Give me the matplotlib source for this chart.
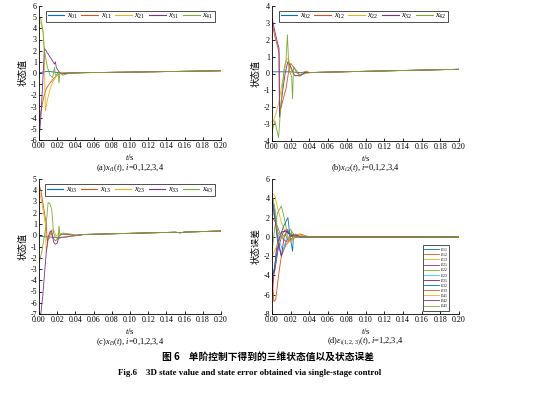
import matplotlib
matplotlib.use("Agg")
import matplotlib.pyplot as plt

plt.rcParams['font.family'] = ['Liberation Serif', 'Noto Sans CJK SC', 'DejaVu Sans']
plt.rcParams['mathtext.fontset'] = 'custom'
plt.rcParams['mathtext.rm'] = 'Liberation Serif'
plt.rcParams['mathtext.it'] = 'Liberation Serif:italic'
plt.rcParams['mathtext.bf'] = 'Liberation Serif:bold'

COLORS = ['#0072BD', '#D95319', '#EDB120', '#7E2F8E', '#77AC30', '#4DBEEE', '#A2142F']

tail_t = [0.05, 0.10, 0.15, 0.20]

# ---------- panel (a) ----------
a_tail = [0.03, 0.08, 0.14, 0.20]
a_x01_t = [0, 0.005, 0.01, 0.015, 0.02, 0.03, 0.04]
a_x01_y = [0, 0.10, 0.15, 0.10, 0.05, 0.0, 0.01]
a_x11_t = [0, 0.002, 0.005, 0.008, 0.012, 0.016, 0.02, 0.025, 0.03, 0.04]
a_x11_y = [-4.5, -3.5, -2.2, -1.4, -0.9, -0.5, -0.2, 0.0, -0.05, 0.01]
a_x21_t = [0, 0.002, 0.005, 0.006, 0.007, 0.009, 0.012, 0.015, 0.02, 0.025, 0.03, 0.04]
a_x21_y = [4.6, 4.5, 3.6, 1.0, -3.4, -2.5, -1.5, -0.8, -0.2, 0.05, 0.0, 0.01]
a_x31_t = [0, 0.002, 0.004, 0.006, 0.01, 0.014, 0.017, 0.018, 0.019, 0.022, 0.025, 0.03, 0.04]
a_x31_y = [-6.0, -4.0, -1.0, 2.2, 1.7, 1.2, 0.8, 1.0, 0.5, 0.1, -0.1, 0.0, 0.01]
a_x41_t = [0, 0.002, 0.004, 0.006, 0.009, 0.012, 0.015, 0.017, 0.018, 0.021, 0.022, 0.023, 0.026, 0.03, 0.035, 0.04]
a_x41_y = [5.0, 4.8, 4.0, 2.0, 0.6, -0.2, -0.4, 0.5, -0.2, 0.0, -0.9, 0.1, -0.2, -0.1, 0.0, 0.01]
a_labels = [r'$x_{01}$', r'$x_{11}$', r'$x_{21}$', r'$x_{31}$', r'$x_{41}$']

# ---------- panel (b) ----------
b_tail = [0.07, 0.13, 0.19, 0.25]
b_x02_t = [0, 0.01, 0.02, 0.03, 0.04]
b_x02_y = [0.10, 0.10, 0.10, 0.05, 0.06]
b_x12_t = [0, 0.003, 0.006, 0.0075, 0.008, 0.012, 0.015, 0.018, 0.02, 0.023, 0.027, 0.03, 0.035, 0.04]
b_x12_y = [3.0, 2.2, 1.6, 1.2, -2.4, -1.5, -0.9, 0.2, 0.6, 0.4, 0.1, -0.1, 0.0, 0.05]
b_x22_t = [0, 0.003, 0.007, 0.012, 0.016, 0.018, 0.021, 0.025, 0.03, 0.04]
b_x22_y = [-3.0, -2.6, -1.8, -0.2, 0.9, 0.8, 0.1, -0.15, -0.1, 0.05]
b_x32_t = [0, 0.003, 0.006, 0.0075, 0.008, 0.011, 0.014, 0.017, 0.02, 0.024, 0.03, 0.036, 0.04]
b_x32_y = [3.3, 2.5, 1.8, 1.5, -2.6, -1.2, 0.0, 0.7, 0.4, -0.1, -0.15, 0.1, 0.05]
b_x42_t = [0, 0.003, 0.007, 0.01, 0.013, 0.015, 0.0165, 0.018, 0.021, 0.022, 0.023, 0.027, 0.03, 0.034, 0.037, 0.04]
b_x42_y = [-3.5, -2.8, -3.8, -1.5, 0.3, 0.8, 2.3, 0.3, -0.2, -1.5, 0.4, 0.0, -0.1, 0.1, 0.15, 0.05]
b_labels = [r'$x_{02}$', r'$x_{12}$', r'$x_{22}$', r'$x_{32}$', r'$x_{42}$']

# ---------- panel (c) ----------
c_tail_t = [0.05, 0.10, 0.15, 0.155, 0.16, 0.20]
c_tail = [0.07, 0.17, 0.27, 0.22, 0.28, 0.38]
c_x03_t = [0, 0.01, 0.02, 0.03, 0.04]
c_x03_y = [-0.1, -0.15, -0.2, -0.15, 0.0]
c_x13_t = [0, 0.002, 0.004, 0.007, 0.008, 0.009, 0.011, 0.013, 0.015, 0.018, 0.021, 0.025, 0.03, 0.04]
c_x13_y = [4.5, 4.0, 3.0, 1.5, 1.0, -0.5, -0.3, 0.3, -0.2, -0.5, -0.3, -0.2, -0.15, -0.05]
c_x23_t = [0, 0.003, 0.006, 0.007, 0.008, 0.01, 0.013, 0.016, 0.019, 0.022, 0.026, 0.03, 0.04]
c_x23_y = [4.0, 3.0, 1.5, 1.0, -1.5, -0.5, 0.4, 0.5, -0.1, 0.2, 0.1, 0.05, 0.0]
c_x33_t = [0, 0.002, 0.004, 0.006, 0.008, 0.01, 0.012, 0.014, 0.016, 0.018, 0.02, 0.022, 0.025, 0.03, 0.04]
c_x33_y = [-7.0, -7.0, -5.5, -3.5, -1.5, -0.2, 0.3, 0.4, -0.6, -0.8, -0.7, -0.1, 0.1, 0.1, 0.0]
c_x43_t = [0, 0.003, 0.006, 0.008, 0.01, 0.012, 0.014, 0.016, 0.018, 0.021, 0.022, 0.023, 0.026, 0.03, 0.035, 0.04]
c_x43_y = [-2.5, -1.5, 0.0, 1.0, 2.9, 2.8, 2.3, 0.2, -0.2, -0.3, 0.8, 0.0, 0.2, 0.15, 0.1, 0.0]
c_labels = [r'$x_{03}$', r'$x_{13}$', r'$x_{23}$', r'$x_{33}$', r'$x_{43}$']

# ---------- panel (d) ----------
d_tail = [0.0, 0.0, 0.0, 0.0]
d_e11_t = [0, 0.003, 0.006, 0.01, 0.015, 0.02, 0.025, 0.03, 0.04]
d_e11_y = [4.2, 2.5, 0.0, -2.0, -0.5, 0.3, 0.1, 0.0, 0.0]
d_e12_t = [0, 0.002, 0.004, 0.007, 0.01, 0.015, 0.02, 0.025, 0.03, 0.04]
d_e12_y = [-4.0, -6.7, -6.5, -4.0, -2.0, -0.8, -0.3, 0.0, 0.1, 0.0]
d_e13_t = [0, 0.003, 0.006, 0.01, 0.015, 0.02, 0.025, 0.03, 0.04]
d_e13_y = [4.5, 4.3, 3.0, 1.5, 0.3, -0.5, 0.0, 0.2, 0.0]
d_e21_t = [0, 0.003, 0.007, 0.012, 0.016, 0.02, 0.025, 0.04]
d_e21_y = [-4.0, -3.5, -1.0, 0.5, 0.8, 0.2, 0.0, 0.0]
d_e22_t = [0, 0.003, 0.006, 0.01, 0.013, 0.016, 0.02, 0.022, 0.03, 0.04]
d_e22_y = [-1.5, 1.0, 2.5, 3.2, 2.0, 0.5, 0.8, 0.0, 0.0, 0.0]
d_e23_t = [0, 0.004, 0.008, 0.012, 0.017, 0.02, 0.025, 0.04]
d_e23_y = [3.0, 1.5, -0.5, -1.5, 0.5, 0.3, 0.0, 0.0]
d_e31_t = [0, 0.002, 0.005, 0.01, 0.015, 0.02, 0.025, 0.04]
d_e31_y = [-6.0, -4.0, -1.0, 0.5, 0.6, 0.2, 0.0, 0.0]
d_e32_t = [0, 0.003, 0.007, 0.012, 0.017, 0.019, 0.022, 0.023, 0.03, 0.04]
d_e32_y = [-4.2, -3.0, -0.5, 1.0, 2.0, 0.2, -1.5, 0.3, 0.0, 0.0]
d_e33_t = [0, 0.004, 0.01, 0.015, 0.02, 0.025, 0.03, 0.04]
d_e33_y = [2.0, 1.5, 0.0, -0.5, -0.3, 0.2, 0.3, 0.0]
d_e41_t = [0, 0.005, 0.01, 0.015, 0.02, 0.025, 0.03, 0.04]
d_e41_y = [-2.0, -1.0, 0.0, 0.3, -0.5, 0.3, 0.2, 0.0]
d_e42_t = [0, 0.003, 0.006, 0.01, 0.013, 0.016, 0.02, 0.025, 0.03, 0.04]
d_e42_y = [3.8, 2.0, -0.5, -2.0, 0.0, 0.6, 0.0, 0.2, 0.0, 0.0]
d_e43_t = [0, 0.003, 0.006, 0.01, 0.014, 0.018, 0.021, 0.025, 0.03, 0.04]
d_e43_y = [4.5, 3.0, 0.5, 0.0, 0.2, -0.3, 0.6, 0.0, 0.0, 0.0]
d_labels = [r'$\varepsilon_{11}$', r'$\varepsilon_{12}$', r'$\varepsilon_{13}$',
            r'$\varepsilon_{21}$', r'$\varepsilon_{22}$', r'$\varepsilon_{23}$',
            r'$\varepsilon_{31}$', r'$\varepsilon_{32}$', r'$\varepsilon_{33}$',
            r'$\varepsilon_{41}$', r'$\varepsilon_{42}$', r'$\varepsilon_{43}$']

W, H = 536, 395
fig = plt.figure(figsize=(W / 100, H / 100), dpi=100)


def mk_axes(l, r, t, b):
    return fig.add_axes([l / W, (H - b) / H, (r - l) / W, (b - t) / H])


def style(ax, ylim, yticks, ylabel):
    ax.set_xlim(0, 0.2)
    ax.set_ylim(*ylim)
    ax.set_xticks([i * 0.02 for i in range(11)])
    ax.set_xticklabels(['%.2f' % (i * 0.02) for i in range(11)])
    ax.set_yticks(yticks)
    ax.set_yticklabels([str(v) for v in yticks])
    for s in ['top', 'right']:
        ax.spines[s].set_visible(False)
    for s in ['left', 'bottom']:
        ax.spines[s].set_linewidth(0.6)
    ax.tick_params(direction='in', length=2.5, width=0.6, labelsize=5.8, pad=1.5)
    ax.set_ylabel(ylabel, family=['Noto Sans CJK SC'], fontsize=6.5, labelpad=2)
    ax.set_xlabel(r'$t$/s', fontsize=6, labelpad=1.5)


def draw(ax, series, tail_x, tail_y, labels, colors):
    handles = []
    for (tt, yy), lab, col in zip(series, labels, colors):
        h, = ax.plot(list(tt) + list(tail_x), list(yy) + list(tail_y), color=col, lw=0.6, label=lab)
        handles.append(h)
    return handles


def top_legend(ax, anchor):
    leg = ax.legend(ncol=5, loc='upper right', bbox_to_anchor=anchor, fontsize=6, frameon=True,
                    fancybox=False, edgecolor='black', handlelength=2.0, handletextpad=0.3,
                    columnspacing=0.4, borderpad=0.15, borderaxespad=0)
    leg.get_frame().set_linewidth(0.6)
    for ln in leg.get_lines():
        ln.set_linewidth(0.8)


# (a)
ax = mk_axes(39, 221, 6, 140)
draw(ax, [(a_x01_t, a_x01_y), (a_x11_t, a_x11_y), (a_x21_t, a_x21_y), (a_x31_t, a_x31_y), (a_x41_t, a_x41_y)],
     tail_t, a_tail, a_labels, COLORS[:5])
style(ax, (-6, 6), list(range(-6, 7)), '状态值')
top_legend(ax, (0.965, 0.965))
fig.text((39 + 221) / 2 / W, 1 - 168 / H, r'(a)$x_{i1}(t)$, $i$=0,1,2,3,4', ha='center', va='center', fontsize=6)

# (b)
ax = mk_axes(272, 459, 6, 141)
draw(ax, [(b_x02_t, b_x02_y), (b_x12_t, b_x12_y), (b_x22_t, b_x22_y), (b_x32_t, b_x32_y), (b_x42_t, b_x42_y)],
     tail_t, b_tail, b_labels, COLORS[:5])
style(ax, (-4, 4), list(range(-4, 5)), '状态值')
top_legend(ax, (0.94, 0.965))
fig.text((272 + 459) / 2 / W, 1 - 168 / H, r'(b)$x_{i2}(t)$, $i$=0,1,2,3,4', ha='center', va='center', fontsize=6)

# (c)
ax = mk_axes(39, 221, 179, 314)
draw(ax, [(c_x03_t, c_x03_y), (c_x13_t, c_x13_y), (c_x23_t, c_x23_y), (c_x33_t, c_x33_y), (c_x43_t, c_x43_y)],
     c_tail_t, c_tail, c_labels, COLORS[:5])
style(ax, (-7, 5), list(range(-7, 6)), '状态值')
top_legend(ax, (0.965, 0.96))
fig.text((39 + 221) / 2 / W, 1 - 342 / H, r'(c)$x_{i3}(t)$, $i$=0,1,2,3,4', ha='center', va='center', fontsize=6)

# (d)
ax = mk_axes(272, 459, 179, 314)
d_series = [(d_e11_t, d_e11_y), (d_e12_t, d_e12_y), (d_e13_t, d_e13_y), (d_e21_t, d_e21_y),
            (d_e22_t, d_e22_y), (d_e23_t, d_e23_y), (d_e31_t, d_e31_y), (d_e32_t, d_e32_y),
            (d_e33_t, d_e33_y), (d_e41_t, d_e41_y), (d_e42_t, d_e42_y), (d_e43_t, d_e43_y)]
d_colors = [COLORS[i % 7] for i in range(12)]
draw(ax, d_series, tail_t, d_tail, d_labels, d_colors)
style(ax, (-8, 6), list(range(-8, 7, 2)), '状态误差')
leg = ax.legend(ncol=1, loc='upper left', bbox_to_anchor=((423 - 272) / 187, (314 - 245) / 135), fontsize=4,
                frameon=True, fancybox=False, edgecolor='black', handlelength=2.6, handletextpad=0.2,
                labelspacing=-0.5, borderpad=0.2, borderaxespad=0)
leg.get_frame().set_linewidth(0.6)
fig.text((272 + 459) / 2 / W, 1 - 342 / H, r'(d)$\varepsilon_{i(1,2,3)}(t)$, $i$=1,2,3,4', ha='center', va='center', fontsize=6)

fig.text(268 / W, 1 - 357 / H, '图 6    单阶控制下得到的三维状态值以及状态误差', ha='center', va='center',
         fontsize=7, fontweight='bold', family=['Noto Sans CJK SC', 'DejaVu Sans'])
fig.text(250 / W, 1 - 373 / H, 'Fig.6    3D state value and state error obtained via single-stage control',
         ha='center', va='center', fontsize=6.4, fontweight='bold', family=['Liberation Serif'])

fig.savefig('out.png', dpi=100)
